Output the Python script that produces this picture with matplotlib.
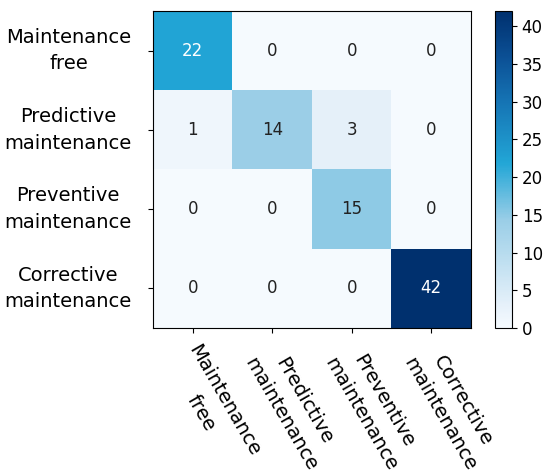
import numpy as np
import matplotlib
matplotlib.use('Agg')
import matplotlib.pyplot as plt
import matplotlib.transforms as mtransforms
from matplotlib.colors import LinearSegmentedColormap

classes = ['Maintenance\nfree', 'Predictive\nmaintenance',
           'Preventive\nmaintenance', 'Corrective\nmaintenance']
cm_values = np.array([[22, 0, 0, 0],
                      [1, 14, 3, 0],
                      [0, 0, 15, 0],
                      [0, 0, 0, 42]])
cbar_ticks = [0, 5, 10, 15, 20, 25, 30, 35, 40]

#colormap sampled from the reference colorbar
cmap = LinearSegmentedColormap.from_list('cm_blues', [
    (0.0, '#f5fafe'), (0.07, '#e6f1fa'), (0.34, '#9acee7'),
    (0.52, '#22a6d6'), (0.72, '#1572b3'), (0.86, '#0b4f94'),
    (1.0, '#00306e')])

fig = plt.figure(figsize=(5.5, 4.76), dpi=100)
ax = fig.add_axes([153/550, 1-328/476, 318/550, 317/476])
cax = fig.add_axes([495/550, 1-328/476, 17/550, 317/476])

im = ax.imshow(cm_values, cmap=cmap, vmin=0, vmax=cm_values.max(), aspect='auto')
thresh = cm_values.max()/2.
for i in range(cm_values.shape[0]):
    for j in range(cm_values.shape[1]):
        v = cm_values[i, j]
        ax.text(j, i, str(v), ha='center', va='center', fontsize=12,
                color='white' if v > thresh*0.9 else '#222222')

ax.set_xticks(range(len(classes)))
ax.set_yticks(range(len(classes)))
ax.set_xticklabels(classes, rotation=-60, ha='left', va='top',
                   rotation_mode='anchor', fontsize=14, multialignment='center',
                   linespacing=1.5)
ax.set_yticklabels(classes, fontsize=14, multialignment='center', linespacing=1.5,
                   va='center')
ax.tick_params(axis='x', pad=6)
ax.tick_params(axis='y', pad=12)
#nudge the rotated labels to the right like in the original
shift = mtransforms.ScaledTranslation(8/100., 0, fig.dpi_scale_trans)
for lbl in ax.get_xticklabels():
    lbl.set_transform(lbl.get_transform() + shift)

cb = fig.colorbar(im, cax=cax, ticks=cbar_ticks)
cb.ax.tick_params(labelsize=12)

fig.savefig('out.png', dpi=100)
